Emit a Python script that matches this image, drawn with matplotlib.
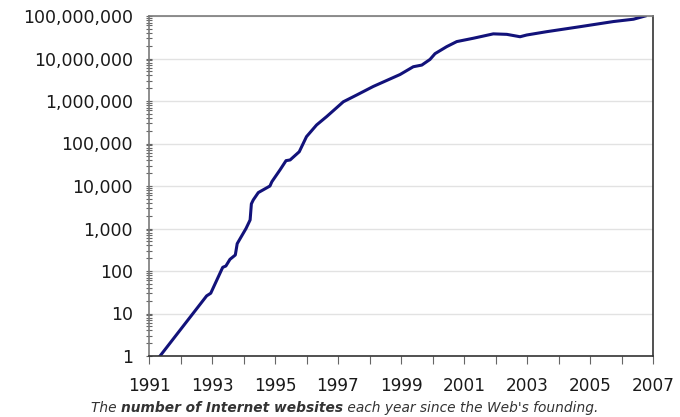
import matplotlib
matplotlib.use("Agg")
import matplotlib.pyplot as plt
from matplotlib.ticker import FixedLocator, FuncFormatter, NullFormatter
import numpy as np

# Data (year, number of websites)
years = [1991.35, 1992.83, 1992.96, 1993.34, 1993.44, 1993.57, 1993.74, 1993.80,
         1994.08, 1994.21, 1994.25, 1994.31, 1994.47, 1994.84, 1994.90, 1995.16,
         1995.35, 1995.48, 1995.77, 1996.00, 1996.32, 1996.64, 1997.17, 1997.59,
         1998.12, 1998.97, 1999.39, 1999.66, 1999.92, 2000.08, 2000.45, 2000.77,
         2001.30, 2001.93, 2002.36, 2002.78, 2002.99, 2003.62, 2004.68, 2005.74,
         2006.38, 2006.75]
websites = [1, 26, 30, 122, 131, 188, 238, 440,
            1000, 1590, 3800, 4700, 7000, 10000, 12600, 24000,
            39500, 41000, 64000, 145000, 273000, 430000, 960000, 1380000,
            2200000, 4200000, 6400000, 7000000, 9500000, 13000000, 19000000, 25000000,
            30000000, 38000000, 37000000, 32500000, 35700000, 42700000, 56000000, 74000000,
            84000000, 100000000]

label_years = [1991, 1993, 1995, 1997, 1999, 2001, 2003, 2005, 2007]
minor_years = [1992, 1994, 1996, 1998, 2000, 2002, 2004, 2006]
y_ticks = [1, 10, 100, 1000, 10000, 100000, 1000000, 10000000, 100000000]
caption_parts = [("The ", "normal"), ("number of Internet websites", "bold"),
                 (" each year since the Web's founding.", "normal")]

plt.rcParams['font.family'] = ['DejaVu Sans']
fig = plt.figure(figsize=(6.8, 4.17), dpi=100)
ax = fig.add_axes([149/680, 61/417, 504/680, 340/417])

ax.plot(years, websites, color='#12127a', lw=2.2, solid_joinstyle='round')
ax.set_yscale('log')
ax.set_xlim(1991, 2007)
ax.set_ylim(1, 1e8)

ax.yaxis.set_major_locator(FixedLocator(y_ticks))
ax.yaxis.set_major_formatter(FuncFormatter(lambda v, p: f"{int(round(v)):,}"))
minor = [m * 10**e for e in range(0, 8) for m in range(2, 10)]
ax.yaxis.set_minor_locator(FixedLocator(minor))
ax.yaxis.set_minor_formatter(NullFormatter())

ax.xaxis.set_major_locator(FixedLocator(label_years))
ax.xaxis.set_minor_locator(FixedLocator(minor_years))
ax.xaxis.set_major_formatter(FuncFormatter(lambda v, p: f"{int(round(v))}"))

ax.grid(True, which='major', axis='y', color='#e2e2e2', lw=1.0)
ax.set_axisbelow(True)

ax.tick_params(axis='y', which='both', direction='inout', length=5, width=0.8,
               color='#666666', labelsize=12.5, labelcolor='#1a1a1a', pad=9)
ax.tick_params(axis='x', which='both', direction='out', length=6, width=0.8,
               color='#666666', labelsize=12.2, labelcolor='#1a1a1a', pad=9)

for side in ['left', 'top']:
    ax.spines[side].set_color('#7a7a7a')
    ax.spines[side].set_linewidth(1.2)
for side in ['right', 'bottom']:
    ax.spines[side].set_color('#333333')
    ax.spines[side].set_linewidth(1.2)

# Caption composed of regular and bold italic parts
fig.canvas.draw()
renderer = fig.canvas.get_renderer()
texts = []
for s, w in caption_parts:
    t = fig.text(0, 0, s, fontsize=9.9, style='italic', weight=w, color='#333333',
                 va='center', ha='left')
    texts.append(t)
widths = [t.get_window_extent(renderer).width for t in texts]
total = sum(widths)
x0 = (345 - total / 2)
cy = 1 - 408 / 417
for t, w in zip(texts, widths):
    t.set_position((x0 / 680, cy))
    x0 += w

fig.savefig('out.png', dpi=100)
